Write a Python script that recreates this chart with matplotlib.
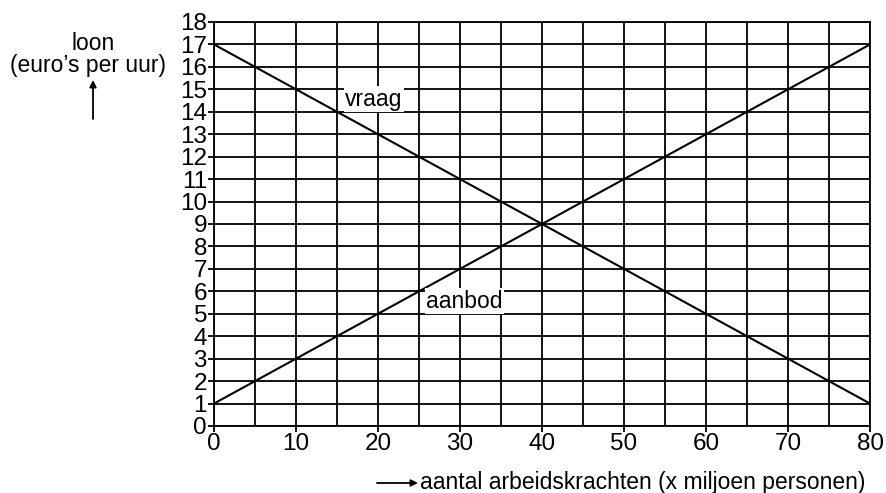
import matplotlib
matplotlib.use('Agg')
import matplotlib.pyplot as plt

# gegevens
x_vraag = [0, 80]
y_vraag = [17, 1]
x_aanbod = [0, 80]
y_aanbod = [1, 17]
x_ticks = [0, 10, 20, 30, 40, 50, 60, 70, 80]
y_ticks = list(range(0, 19))

plt.rcParams['font.family'] = ['Liberation Sans', 'DejaVu Sans']

fig = plt.figure(figsize=(8.87, 4.93), dpi=100)
ax = fig.add_axes([214 / 887, 1 - 426 / 493, 656 / 887, 404 / 493])

ax.set_xlim(0, 80)
ax.set_ylim(0, 18)
ax.set_xticks(x_ticks)
ax.set_xticks(range(0, 81, 5), minor=True)
ax.set_yticks(y_ticks)
ax.grid(True, which='both', color='black', linewidth=1.3)
ax.set_axisbelow(True)
for s in ax.spines.values():
    s.set_linewidth(1.3)
ax.tick_params(axis='both', which='major', labelsize=17.5, length=4, width=1.3,
               pad=1, colors='black')
ax.tick_params(axis='both', which='minor', length=0)

ax.plot(x_vraag, y_vraag, color='black', linewidth=1.5)
ax.plot(x_aanbod, y_aanbod, color='black', linewidth=1.5)

box = dict(facecolor='white', edgecolor='none', pad=1)
ax.text(16.0, 14.05, 'vraag', fontsize=16.5, va='bottom', ha='left', bbox=box)
ax.text(25.9, 5.05, 'aanbod', fontsize=16.5, va='bottom', ha='left', bbox=box)

# aslabels
fig.text(93 / 887, 1 - 43 / 493, 'loon', fontsize=16.5, ha='center', va='center')
fig.text(88 / 887, 1 - 65 / 493, "(euro’s per uur)", fontsize=16.5,
         ha='center', va='center')
fig.add_artist(matplotlib.patches.FancyArrowPatch(
    (93 / 887, 1 - 119 / 493), (93 / 887, 1 - 80 / 493),
    transform=fig.transFigure, arrowstyle='-|>', mutation_scale=10,
    color='black', linewidth=1.3, shrinkA=0, shrinkB=0))

fig.text(420 / 887, 1 - 482 / 493, 'aantal arbeidskrachten (x miljoen personen)',
         fontsize=16.5, ha='left', va='center')
fig.add_artist(matplotlib.patches.FancyArrowPatch(
    (377 / 887, 1 - 483 / 493), (418 / 887, 1 - 483 / 493),
    transform=fig.transFigure, arrowstyle='-|>', mutation_scale=10,
    color='black', linewidth=1.3, shrinkA=0, shrinkB=0))

fig.savefig('out.png', dpi=100)
